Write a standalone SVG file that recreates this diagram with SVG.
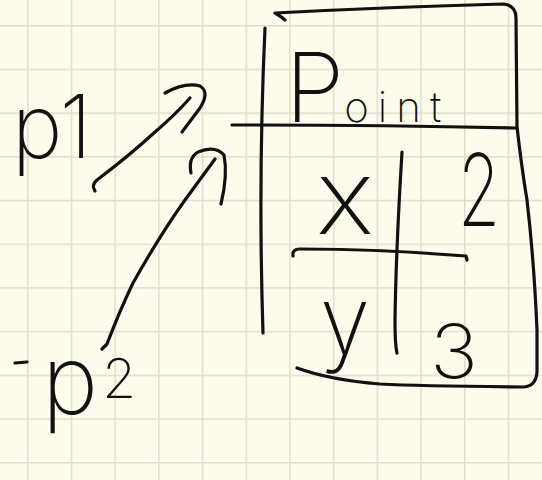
<svg xmlns="http://www.w3.org/2000/svg" width="542" height="480" viewBox="0 0 542 480">
<defs>
<pattern id="grid" patternUnits="userSpaceOnUse" x="27" y="25" width="43.7" height="43.7">
<path d="M0.75,0 V43.7 M0,0.75 H43.7" fill="none" stroke="#e0ddcc" stroke-width="1.5"/>
</pattern>
</defs>
<style>
.ink{fill:none;stroke:#111;stroke-width:3.2;stroke-linecap:round;stroke-linejoin:round}
.hand{font-family:Inter,Roboto,Lato,"DejaVu Sans",sans-serif;font-weight:200;fill:#111}
</style>
<rect width="542" height="480" fill="#fdfbec"/>
<rect width="542" height="480" fill="url(#grid)"/>
<g id="point">
<path class="ink" d="M285,20 Q279,15 275,13 Q390,7 503,4 Q516,5 516,18 L517,127 Q522,170 527,200 Q534,260 537,330 L537,372 Q536,386 524,387 Q420,386 380,384 Q330,380 297,368"/>
<path class="ink" d="M265,28 Q258,180 263,333"/>
<path class="ink" d="M232,125 Q380,125 517,128"/>
<path class="ink" d="M402,152 Q396,250 395,320 Q395,345 397,353"/>
<path class="ink" d="M293,256 Q292,249 300,249 Q380,249 466,256 L467,260"/>
<text class="hand" x="285" y="122"><tspan font-size="96">P</tspan><tspan font-size="42" letter-spacing="9">oint</tspan></text>
<text class="hand" x="316" y="234" font-size="105" textLength="58" lengthAdjust="spacingAndGlyphs">x</text>
<text class="hand" x="458" y="226" font-size="100" textLength="42" lengthAdjust="spacingAndGlyphs">2</text>
<text class="hand" x="320" y="354" font-size="95" textLength="50" lengthAdjust="spacingAndGlyphs">y</text>
<text class="hand" x="430" y="378" font-size="74" textLength="48" lengthAdjust="spacingAndGlyphs">3</text>
</g>
<g id="p1">
<text class="hand" x="12" y="158" font-size="88" textLength="80" lengthAdjust="spacingAndGlyphs">p1</text>
</g>
<g id="p2">
<path class="ink" d="M15,363 L27,362"/>
<text class="hand" x="42" y="414"><tspan font-size="95">p</tspan><tspan font-size="55" dx="4" dy="-16">2</tspan></text>
</g>
<g id="connectors">
<path class="ink" d="M95,191 Q91,185 97,180 Q130,155 155,132 Q175,115 190,98"/>
<path class="ink" d="M165,93 Q185,82 200,86 Q210,92 200,108 L182,132"/>
<path class="ink" d="M102,349 L107,344 Q120,310 133,283 Q160,235 185,200 L215,159"/>
<path class="ink" d="M191,173 Q188,158 198,152 Q215,145 224,155 Q228,175 221,204"/>
</g>
</svg>
